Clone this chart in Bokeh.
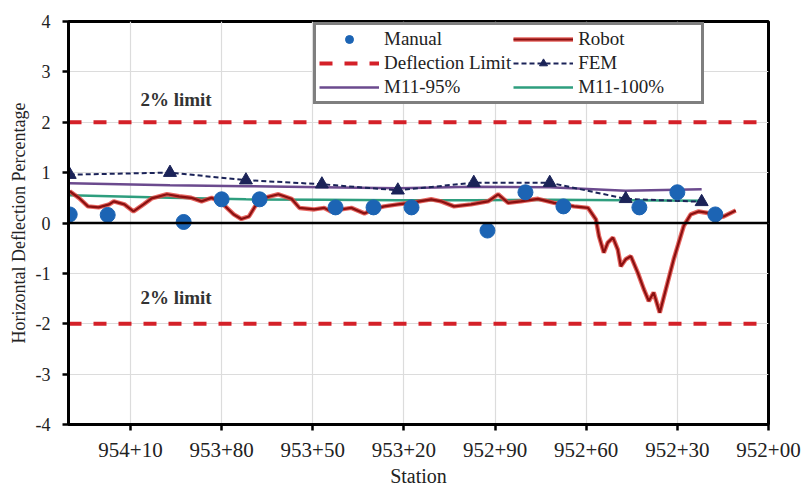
from bokeh.plotting import figure
from bokeh.models import Range1d, FixedTicker, Legend, LegendItem, Span
from bokeh.core.properties import value
from bokeh.embed import file_html
from bokeh.resources import INLINE

# ---------------- data ----------------
station_ticks = [95410, 95380, 95350, 95320, 95290, 95260, 95230, 95200]
station_labels = ["954+10", "953+80", "953+50", "953+20", "952+90", "952+60", "952+30", "952+00"]
y_ticks = [-4, -3, -2, -1, 0, 1, 2, 3, 4]
y_labels = ["-4", "-3", "-2", "-1", "0", "1", "2", "3", "4"]

manual_sta = [95430, 95417.5, 95392.5, 95380, 95367.5, 95342.5, 95330, 95317.5,
              95292.5, 95280, 95267.5, 95242.5, 95230, 95217.5]
manual_val = [0.17, 0.16, 0.02, 0.47, 0.47, 0.31, 0.31, 0.31,
              -0.15, 0.61, 0.33, 0.31, 0.61, 0.17]

fem_sta = [95430, 95397, 95372, 95347, 95322, 95297, 95272, 95247, 95222]
fem_val = [0.96, 1.00, 0.85, 0.77, 0.65, 0.80, 0.80, 0.48, 0.42]

m95_sta = [95430, 95397, 95372, 95347, 95322, 95297, 95272, 95247, 95222]
m95_val = [0.79, 0.75, 0.73, 0.71, 0.69, 0.72, 0.71, 0.64, 0.67]

m100_sta = [95430, 95397, 95372, 95347, 95322, 95297, 95272, 95247, 95222]
m100_val = [0.55, 0.50, 0.47, 0.46, 0.45, 0.45, 0.46, 0.45, 0.44]

robot_sta = [95430, 95427, 95424, 95420.5, 95417, 95415.5, 95412, 95409, 95405.7, 95403,
             95398, 95394, 95390, 95386.6, 95383.3, 95380, 95376, 95373.5, 95371, 95369,
             95366, 95361.3, 95357, 95354.4, 95349.5, 95346.2, 95344, 95340.6, 95337.3, 95333,
             95329.8, 95326.5, 95322, 95317.6, 95311, 95307.8, 95303.5, 95297.9, 95292.3, 95289,
             95285.7, 95281.5, 95275.9, 95270.6, 95264, 95259.4, 95256.8, 95255.8, 95254.2, 95252.9,
             95251.2, 95249.6, 95248.6, 95247, 95245.3, 95243, 95241, 95239.4, 95237.8, 95235.8,
             95233.8, 95231.2, 95227.9, 95225.6, 95223, 95220, 95217.4, 95214.8, 95210.8]
robot_val = [0.63, 0.50, 0.33, 0.31, 0.37, 0.43, 0.37, 0.23, 0.37, 0.49,
             0.57, 0.53, 0.50, 0.43, 0.50, 0.40, 0.17, 0.08, 0.13, 0.33,
             0.50, 0.57, 0.48, 0.30, 0.27, 0.30, 0.23, 0.27, 0.30, 0.19,
             0.28, 0.33, 0.37, 0.40, 0.47, 0.43, 0.33, 0.37, 0.43, 0.57,
             0.40, 0.43, 0.48, 0.40, 0.33, 0.30, 0.07, -0.26, -0.59, -0.39,
             -0.29, -0.53, -0.86, -0.72, -0.66, -0.99, -1.32, -1.55, -1.38, -1.78,
             -1.32, -0.72, -0.06, 0.17, 0.23, 0.20, 0.10, 0.13, 0.25]

limit_sta = [95430.4, 95200]
limit_upper = [2, 2]
limit_lower = [-2, -2]

note_sta = [95395, 95395]
note_val = [2.45, -1.48]
note_txt = ["2% limit", "2% limit"]

SERIF = "Liberation Serif"

# ---------------- figure ----------------
p = figure(width=802, height=489, output_backend="svg", toolbar_location=None,
           x_range=Range1d(95430.4, 95200), y_range=Range1d(-4, 4), title=None,
           min_border_left=68, min_border_right=34, min_border_top=21, min_border_bottom=64,
           background_fill_color="white", border_fill_color="white")

p.outline_line_color = "black"
p.outline_line_width = 3
p.outline_line_alpha = 1

# axes
p.xaxis.ticker = FixedTicker(ticks=station_ticks)
p.xaxis.major_label_overrides = dict(zip(station_ticks, station_labels))
p.yaxis.ticker = FixedTicker(ticks=y_ticks)
p.yaxis.major_label_overrides = dict(zip(y_ticks, y_labels))
for ax in (p.xaxis[0], p.yaxis[0]):
    ax.axis_line_color = "black"
    ax.axis_line_width = 3
    ax.major_tick_line_color = "black"
    ax.major_tick_line_width = 2.5
    ax.major_tick_in = 0
    ax.major_tick_out = 6
    ax.minor_tick_line_color = None
    ax.major_label_text_font = SERIF
    ax.major_label_text_color = "#222222"
    ax.axis_label_text_font = SERIF
    ax.axis_label_text_font_style = "normal"
    ax.axis_label_text_color = "#222222"

p.xaxis.major_label_text_font_size = "21px"
p.xaxis.major_label_standoff = 12
p.xaxis.axis_label = "Station"
p.xaxis.axis_label_text_font_size = "20px"
p.xaxis.axis_label_standoff = 5

p.yaxis.major_label_text_font_size = "18px"
p.yaxis.major_label_standoff = 12
p.yaxis.axis_label = "Horizontal Deflection Percentage"
p.yaxis.axis_label_text_font_size = "18px"
p.yaxis.axis_label_standoff = 4

p.xgrid.ticker = FixedTicker(ticks=station_ticks)
p.ygrid.ticker = FixedTicker(ticks=y_ticks)
p.grid.grid_line_color = "#dcdcdc"
p.grid.grid_line_width = 1.2

# zero line
p.add_layout(Span(location=0, dimension="width", line_color="black", line_width=2.5))

# deflection limits
lim_up = p.line(limit_sta, limit_upper, line_color="#d42028", line_width=4, line_dash="13 12")
lim_dn = p.line(limit_sta, limit_lower, line_color="#d42028", line_width=4, line_dash="13 12")

# M11 lines
m95 = p.line(m95_sta, m95_val, line_color="#6b4a8e", line_width=2.5)
m100 = p.line(m100_sta, m100_val, line_color="#2e9e7e", line_width=2.5)

# Robot
rob_halo = p.line(robot_sta, robot_val, line_color="#e0403a", line_width=4.5, line_alpha=0.8)
rob = p.line(robot_sta, robot_val, line_color="#8a1010", line_width=2.2)

# FEM
fem_l = p.line(fem_sta, fem_val, line_color="#1b2358", line_width=2, line_dash="5 3")
fem_s = p.scatter(fem_sta, fem_val, marker="triangle", size=13, fill_color="#1b2358",
                  line_color="#1b2358")

# Manual
man = p.scatter(manual_sta, manual_val, marker="circle", size=15, fill_color="#1c64b4",
                line_color="#1c64b4")

# notes
p.text(x=note_sta, y=note_val, text=note_txt, text_font=value(SERIF), text_font_size="19px",
       text_font_style="bold", text_color="#333333", text_align="center", text_baseline="middle")

# legend (Bokeh fills columns first, so order column by column)
legend = Legend(items=[
    LegendItem(label="Manual", renderers=[man]),
    LegendItem(label="Deflection Limit", renderers=[lim_up]),
    LegendItem(label="M11-95%", renderers=[m95]),
    LegendItem(label="Robot", renderers=[rob_halo, rob]),
    LegendItem(label="FEM", renderers=[fem_l, fem_s]),
    LegendItem(label="M11-100%", renderers=[m100]),
], ncols=2, location=(245, 320))
legend.border_line_color = "black"
legend.border_line_width = 3
legend.background_fill_color = "white"
legend.background_fill_alpha = 1
legend.label_text_font = SERIF
legend.label_text_font_size = "19px"
legend.label_text_color = "#222222"
legend.glyph_width = 60
legend.glyph_height = 20
legend.label_height = 20
legend.label_width = 120
legend.label_standoff = 5
legend.spacing = 2
legend.padding = 3
legend.margin = 0
p.add_layout(legend, "center")

open("out.html", "w").write(file_html(p, INLINE))
